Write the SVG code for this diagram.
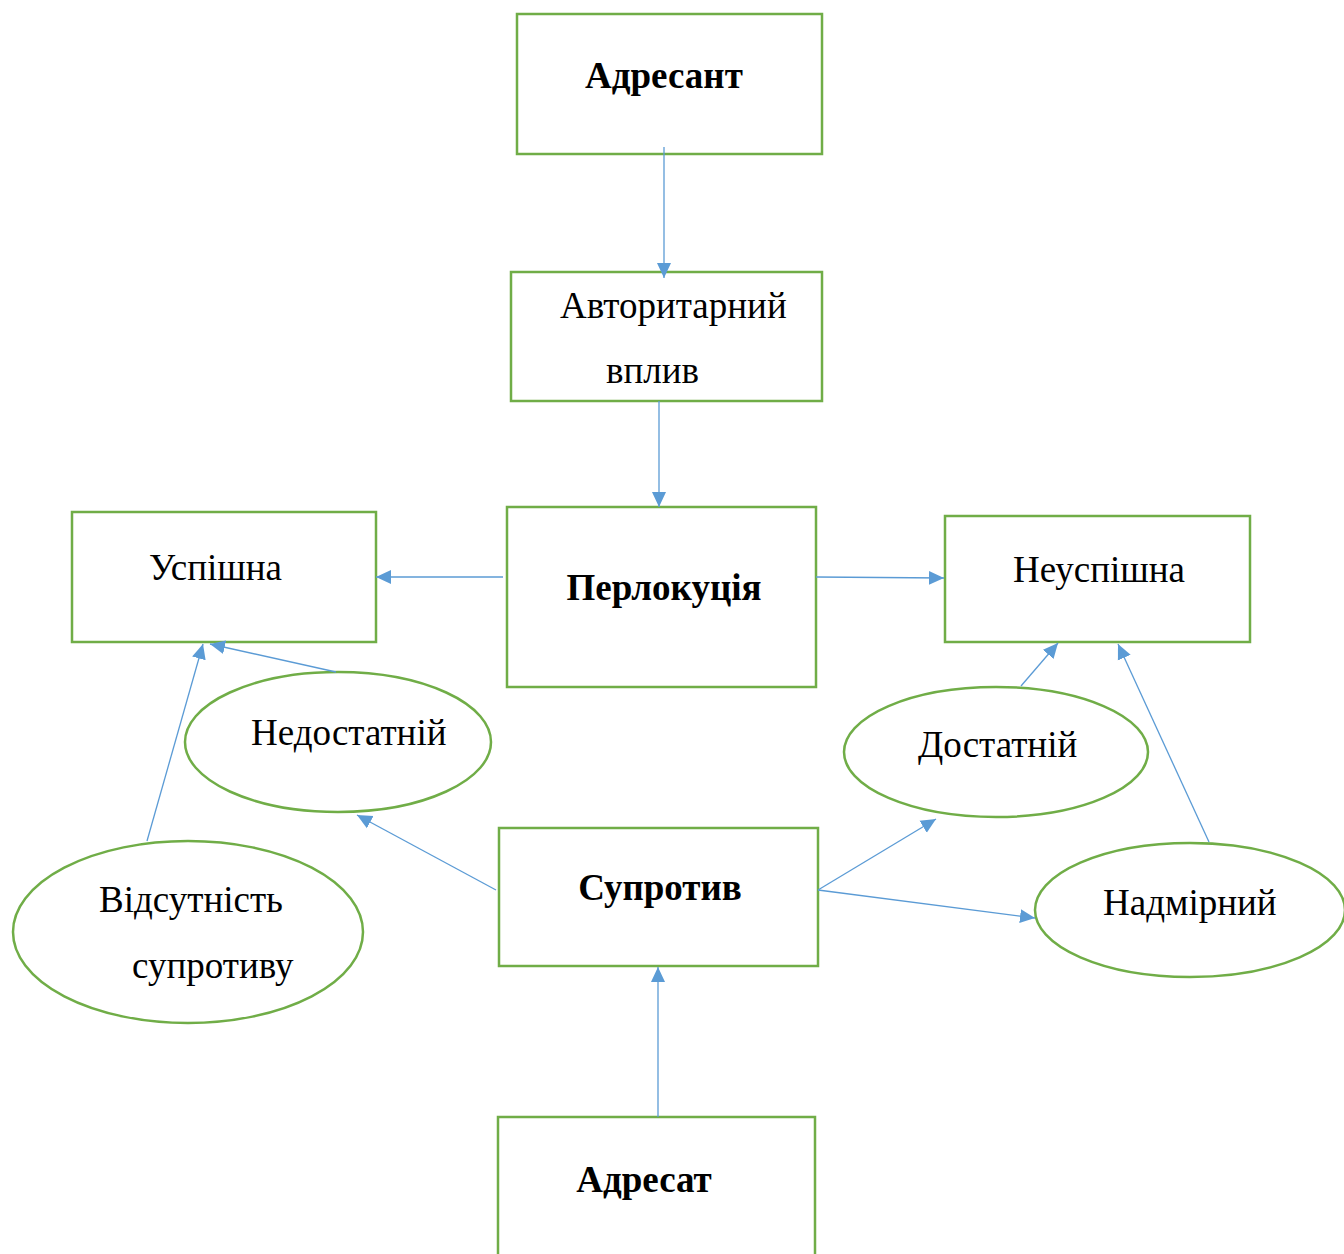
<svg xmlns="http://www.w3.org/2000/svg" width="1344" height="1254" viewBox="0 0 1344 1254">
<style>
.box{fill:#fff;stroke:#70AD47;stroke-width:2.5}
.t{font-family:"Liberation Serif","Times New Roman",serif;font-size:37px;fill:#000}
.b{font-weight:bold}
.c{fill:none;stroke:#5B9BD5;stroke-width:1.3}
</style>
<defs>
<marker id="ah" markerUnits="userSpaceOnUse" markerWidth="16" markerHeight="16" viewBox="0 0 16 16" refX="15" refY="8" orient="auto">
<path d="M0,1 L15,8 L0,15 Z" fill="#5B9BD5"/>
</marker>
</defs>
<rect width="1344" height="1254" fill="#fff"/>
<g id="adresant"><rect class="box" x="517" y="14" width="305" height="140"/><text class="t b" x="664" y="88" text-anchor="middle">Адресант</text></g>
<g id="vplyv"><rect class="box" x="511" y="272" width="311" height="129"/><text class="t" x="560" y="318">Авторитарний</text><text class="t" x="606" y="383">вплив</text></g>
<g id="perlokutsia"><rect class="box" x="507" y="507" width="309" height="180"/><text class="t b" x="664" y="600" text-anchor="middle">Перлокуція</text></g>
<g id="uspishna"><rect class="box" x="72" y="512" width="304" height="130"/><text class="t" x="149" y="580">Успішна</text></g>
<g id="neuspishna"><rect class="box" x="945" y="516" width="305" height="126"/><text class="t" x="1013" y="582">Неуспішна</text></g>
<g id="suprotyv"><rect class="box" x="499" y="828" width="319" height="138"/><text class="t b" x="660" y="900" text-anchor="middle">Супротив</text></g>
<g id="adresat"><rect class="box" x="498" y="1117" width="317" height="150"/><text class="t b" x="644" y="1192" text-anchor="middle">Адресат</text></g>
<g id="nedostatnii"><ellipse class="box" cx="338" cy="742" rx="153" ry="70"/><text class="t" x="251" y="745">Недостатній</text></g>
<g id="vidsutnist"><ellipse class="box" cx="188" cy="932" rx="175" ry="91"/><text class="t" x="99" y="912">Відсутність</text><text class="t" x="132" y="978">супротиву</text></g>
<g id="dostatnii"><ellipse class="box" cx="996" cy="752" rx="152" ry="65"/><text class="t" x="918" y="757">Достатній</text></g>
<g id="nadmirnyi"><ellipse class="box" cx="1190" cy="910" rx="155" ry="67"/><text class="t" x="1103" y="915">Надмірний</text></g>
<g id="connectors">
<line class="c" x1="664" y1="147" x2="664" y2="278" marker-end="url(#ah)"/>
<line class="c" x1="659" y1="401" x2="659" y2="507" marker-end="url(#ah)"/>
<line class="c" x1="503" y1="577" x2="376" y2="577" marker-end="url(#ah)"/>
<line class="c" x1="816" y1="577" x2="944" y2="578" marker-end="url(#ah)"/>
<line class="c" x1="336" y1="672" x2="210" y2="644" marker-end="url(#ah)"/>
<line class="c" x1="147" y1="841" x2="203" y2="644" marker-end="url(#ah)"/>
<line class="c" x1="496" y1="890" x2="357" y2="815" marker-end="url(#ah)"/>
<line class="c" x1="818" y1="890" x2="936" y2="819" marker-end="url(#ah)"/>
<line class="c" x1="818" y1="890" x2="1035" y2="918" marker-end="url(#ah)"/>
<line class="c" x1="1021" y1="686" x2="1058" y2="643" marker-end="url(#ah)"/>
<line class="c" x1="1209" y1="842" x2="1118" y2="644" marker-end="url(#ah)"/>
<line class="c" x1="658" y1="1117" x2="658" y2="967" marker-end="url(#ah)"/>
</g>
</svg>
